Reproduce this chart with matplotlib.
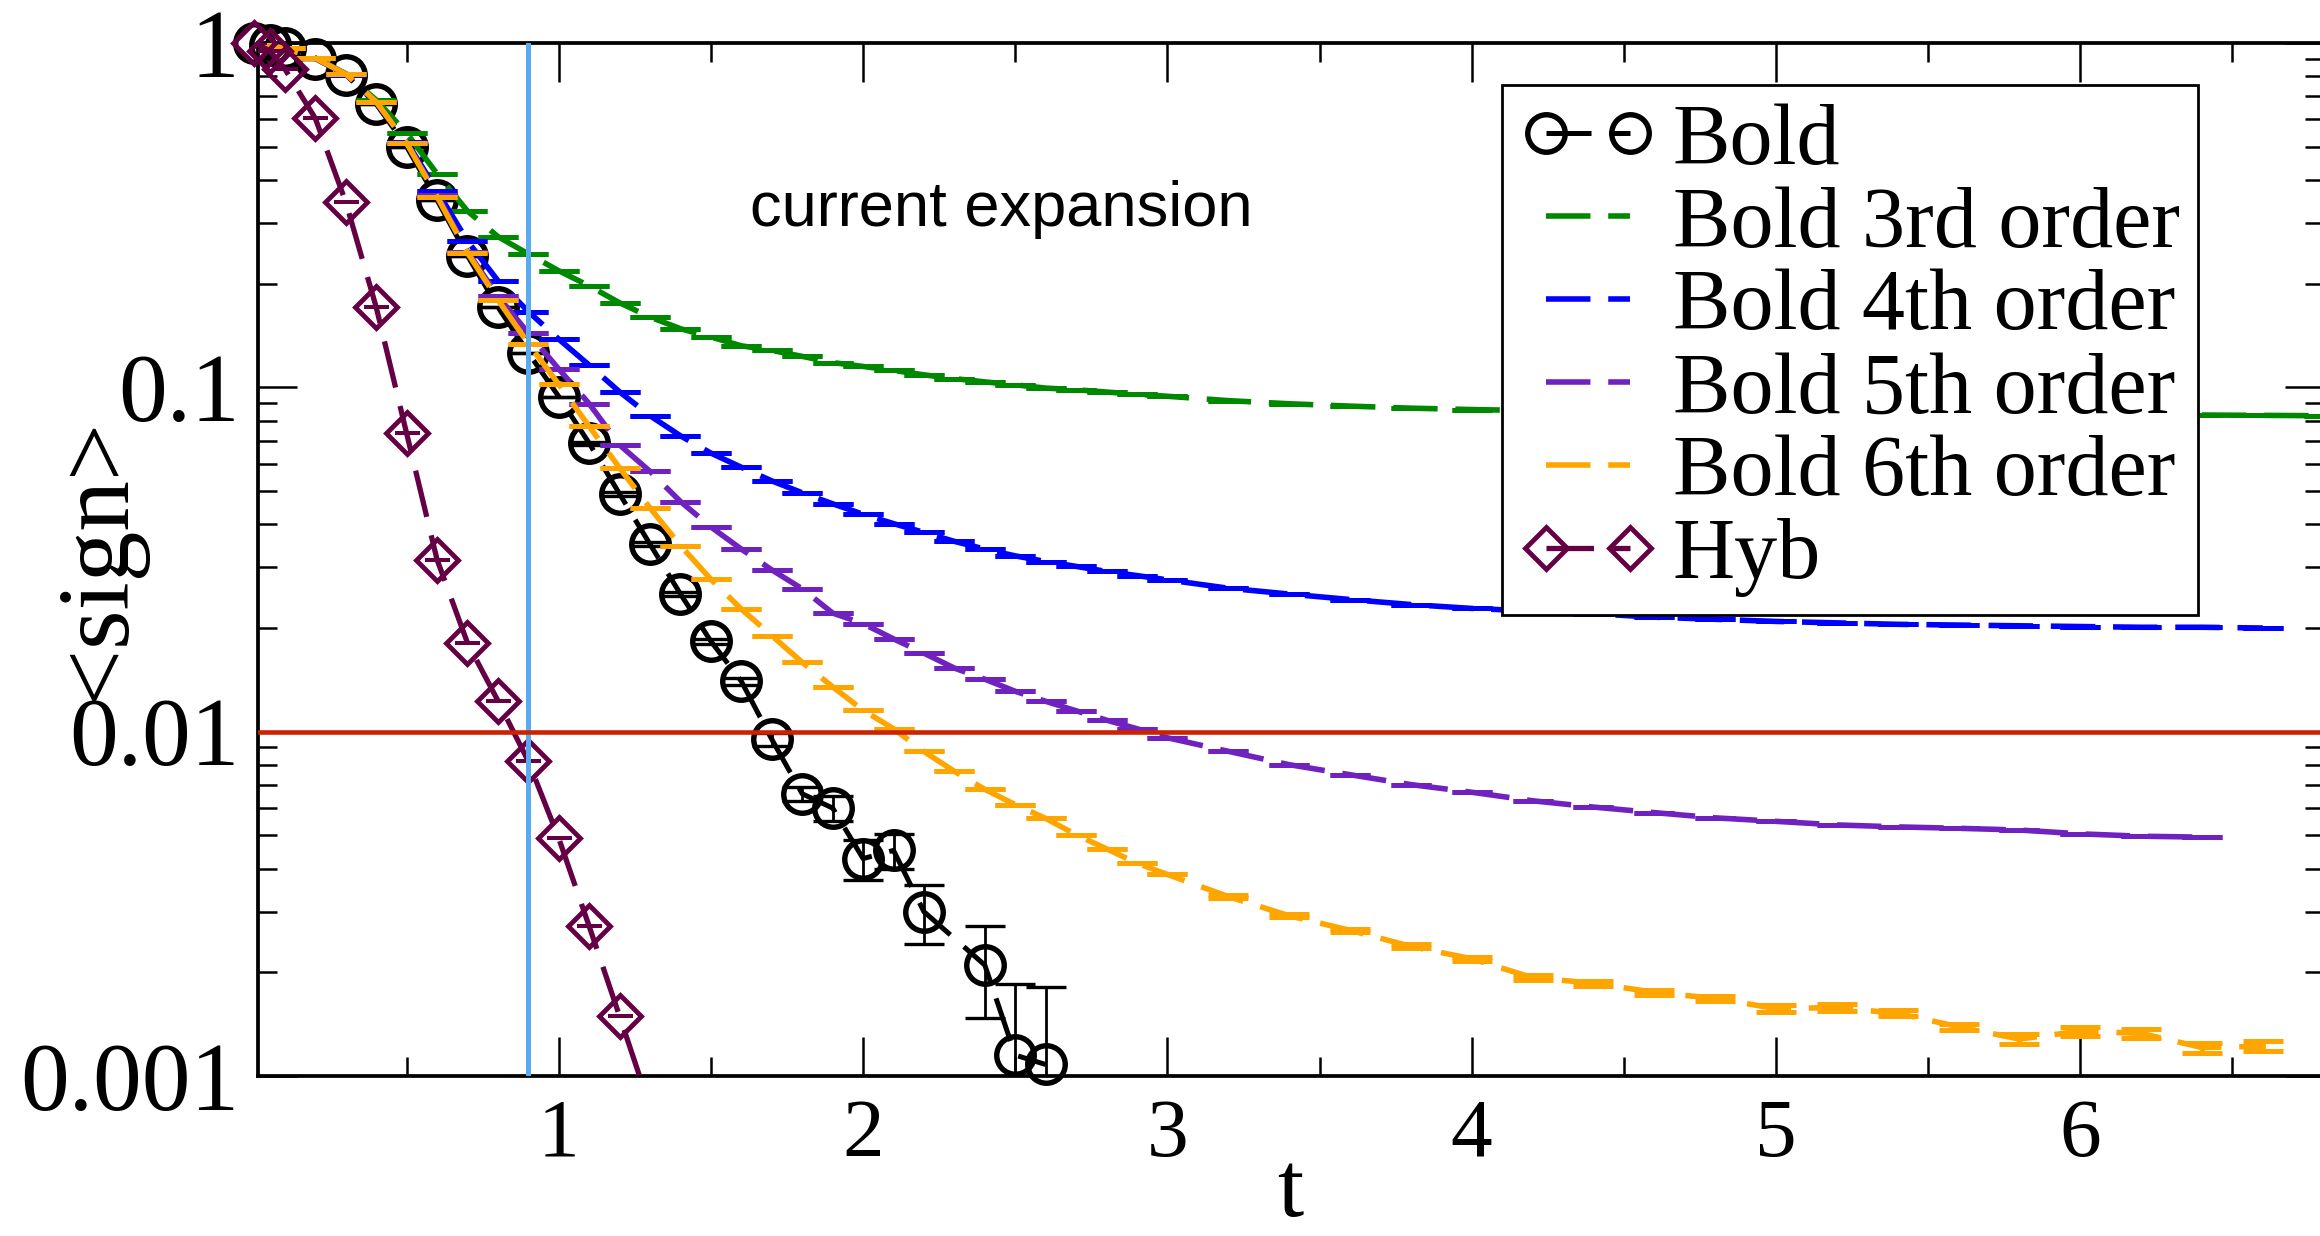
import numpy as np
import matplotlib
matplotlib.use('Agg')
import matplotlib.pyplot as plt
from matplotlib.lines import Line2D
from matplotlib.ticker import FixedLocator, NullFormatter, LogLocator

# ---- values ----
# time grids used by the bold-order runs
t_fine = [0.0, 0.1, 0.2, 0.3, 0.4, 0.5, 0.6, 0.7, 0.8, 0.9, 1.0,
          1.1, 1.2, 1.3, 1.4, 1.5, 1.6, 1.7, 1.8, 1.9, 2.0,
          2.1, 2.2, 2.3, 2.4, 2.5, 2.6, 2.7, 2.8, 2.9, 3.0]
t_coarse = [3.2, 3.4, 3.6, 3.8, 4.0, 4.2, 4.4, 4.6, 4.8, 5.0,
            5.2, 5.4, 5.6, 5.8, 6.0, 6.2, 6.4, 6.6, 6.8]

# Bold (full), circles with error bars
bold_t = [0.0, 0.05, 0.1, 0.2, 0.3, 0.4, 0.5, 0.6, 0.7, 0.8, 0.9, 1.0, 1.1, 1.2,
          1.3, 1.4, 1.5, 1.6, 1.7, 1.8, 1.9, 2.0, 2.1, 2.2, 2.4, 2.5, 2.6]
bold_sign = [1.0, 0.99, 0.965, 0.90, 0.81, 0.665, 0.50, 0.35, 0.241, 0.171, 0.126,
             0.094, 0.0688, 0.049, 0.035, 0.0251, 0.0183, 0.0140, 0.0095, 0.0066,
             0.0060, 0.00428, 0.00452, 0.0030, 0.0021, 0.00115, 0.00108]
bold_err = [0.0, 0.0, 0.0, 0.0, 0.0, 0.0, 0.0, 0.0, 0.0, 0.0, 0.0, 0.0, 0.0006,
            0.0006, 0.0005, 0.0004, 0.0003, 0.0003, 0.0004, 0.0003, 0.0005, 0.00056,
            0.00054, 0.00058, 0.00063, 0.0007, 0.00073]

# Bold 3rd order
green_t = t_fine + t_coarse
green_sign = [1.0, 0.965, 0.905, 0.815, 0.683, 0.548, 0.417, 0.325, 0.274, 0.244, 0.218,
              0.197, 0.176, 0.160, 0.148, 0.140, 0.132, 0.128, 0.123, 0.118, 0.115,
              0.112, 0.1087, 0.106, 0.1037, 0.1017, 0.0995, 0.0984, 0.0969, 0.0955, 0.0942,
              0.0915, 0.0896, 0.0882, 0.0870, 0.0862, 0.0856, 0.0851, 0.0847, 0.0844, 0.0841,
              0.0839, 0.0837, 0.0836, 0.0834, 0.0833, 0.0832, 0.0831, 0.0829, 0.0827]

# Bold 4th order
blue_t = t_fine + t_coarse[:-1]
blue_sign = [1.0, 0.965, 0.903, 0.81, 0.672, 0.517, 0.372, 0.266, 0.204, 0.166, 0.138,
             0.116, 0.097, 0.0827, 0.0723, 0.0644, 0.0586, 0.0535, 0.0494, 0.0459, 0.0428,
             0.0402, 0.0379, 0.0357, 0.0339, 0.0324, 0.0312, 0.0302, 0.0292, 0.0284, 0.0276,
             0.0261, 0.0251, 0.0242, 0.0234, 0.0228, 0.0224, 0.0220, 0.0215, 0.0212, 0.0209,
             0.0207, 0.0205, 0.0204, 0.0203, 0.0202, 0.0201, 0.0201, 0.0200]

# Bold 5th order
purple_t = t_fine + t_coarse[:-2]
purple_sign = [1.0, 0.965, 0.903, 0.812, 0.673, 0.514, 0.362, 0.248, 0.184, 0.1437, 0.113,
               0.0896, 0.068, 0.057, 0.0466, 0.0393, 0.0339, 0.0295, 0.026, 0.0221, 0.0206,
               0.0186, 0.0169, 0.0153, 0.0142, 0.0131, 0.01225, 0.0115, 0.0108, 0.0102, 0.0096,
               0.00877, 0.00802, 0.0075, 0.00702, 0.00667, 0.0063, 0.00604, 0.00582, 0.00562,
               0.00549, 0.00536, 0.00529, 0.00524, 0.00518, 0.00505, 0.00497, 0.00494]

# Bold 6th order
orange_t = t_fine + t_coarse[:-1]
orange_sign = [1.0, 0.965, 0.903, 0.813, 0.675, 0.512, 0.358, 0.246, 0.1795, 0.134, 0.102,
               0.077, 0.0583, 0.0446, 0.0347, 0.0277, 0.0227, 0.019, 0.0159, 0.0135, 0.01154,
               0.0102, 0.00876, 0.00767, 0.0068, 0.00614, 0.0056, 0.00502, 0.00457, 0.00415, 0.00385,
               0.00332, 0.00292, 0.00265, 0.00238, 0.00219, 0.00193, 0.00186, 0.00175, 0.00168,
               0.00157, 0.00158, 0.00152, 0.00139, 0.00128, 0.00135, 0.00133, 0.00121, 0.00122]
orange_err = [0.0] * 31 + [0.00003, 0.00003, 0.00003, 0.00003, 0.00003, 0.00003, 0.00003,
                           0.00003, 0.00003, 0.00004, 0.00004, 0.00003, 0.00003, 0.00004,
                           0.00004, 0.00004, 0.00004, 0.00004]

# Hyb (hybridization expansion), diamonds
hyb_t = [0.0, 0.05, 0.1, 0.2, 0.3, 0.4, 0.5, 0.6, 0.7, 0.8, 0.9, 1.0, 1.1, 1.2, 1.3]
hyb_sign = [1.0, 0.95, 0.84, 0.604, 0.345, 0.171, 0.0735, 0.0316, 0.0181, 0.0123,
            0.0082, 0.0049, 0.00272, 0.00149, 0.00081]

t_cut = 0.9       # vertical marker
sign_cut = 0.01   # horizontal marker

labels = ['Bold', 'Bold 3rd order', 'Bold 4th order', 'Bold 5th order', 'Bold 6th order', 'Hyb']

# colours
c_green = '#008800'
c_blue = '#0000ff'
c_purple = '#7022c0'
c_orange = '#ffa500'
c_hyb = '#650045'

plt.rcParams['font.family'] = ['Liberation Serif', 'DejaVu Serif']

fig = plt.figure(figsize=(23.2, 12.36), dpi=100)
ax = fig.add_axes([0.111, 0.12945, 0.8906, 0.83576])
ax.set_yscale('log')
ax.set_xlim(0.01, 6.8)
ax.set_ylim(1e-3, 1)

dash = (0, (8.0, 3.2))
dash_bold = (0, (9, 3.6))

# Bold : dashed line (clipped) + open circles (not clipped, like xmgrace)
ax.plot(bold_t, bold_sign, color='k', lw=3.6, ls=dash_bold, zorder=2)
ax.errorbar(bold_t, bold_sign, yerr=bold_err, fmt='none', ecolor='k',
            elinewidth=2, capsize=14.5, capthick=2.4, zorder=2)
ax.plot(bold_t, bold_sign, ls='none', marker='o', ms=27, mfc='none', mec='k',
        mew=3.9, clip_on=False, zorder=2)

# bold order runs
orders = [(green_t, green_sign, 0.0, c_green),
          (blue_t, blue_sign, 0.0, c_blue),
          (purple_t, purple_sign, 0.0, c_purple),
          (orange_t, orange_sign, orange_err, c_orange)]
for k, (tt, ss, ee, col) in enumerate(orders):
    ax.plot(tt, ss, color=col, lw=4, ls=dash, zorder=3 + k)
    ax.errorbar(tt, ss, yerr=ee, fmt='none', ecolor=col, elinewidth=3.4,
                capsize=14.5, capthick=3.6, zorder=3 + k)

# Hyb
hyb_t = np.array(hyb_t)
hyb_sign = np.array(hyb_sign)
ax.plot(hyb_t, hyb_sign, color=c_hyb, lw=3.8, ls=dash_bold, zorder=8)
vis = hyb_sign >= 1e-3
ax.errorbar(hyb_t[vis], hyb_sign[vis], yerr=0.0, fmt='none', ecolor=c_hyb,
            elinewidth=2, capsize=9, capthick=2.8, zorder=8)
ax.plot(hyb_t[vis], hyb_sign[vis], ls='none', marker='D', ms=21, mfc='none',
        mec=c_hyb, mew=3.5, clip_on=False, zorder=8)

# reference lines
ax.axvline(t_cut, color='#5aaaf0', lw=3.6, zorder=10)
ax.axhline(sign_cut, color='#cc2200', lw=3.3, zorder=10)

ax.text(0.2383, 0.8228, 'current expansion', transform=ax.transAxes,
        fontsize=45.5, family='Liberation Sans', ha='left', va='baseline')

# ticks
ax.xaxis.set_major_locator(FixedLocator([1, 2, 3, 4, 5, 6]))
ax.xaxis.set_minor_locator(FixedLocator([0.5, 1.5, 2.5, 3.5, 4.5, 5.5, 6.5]))
ax.set_yticks([1e-3, 1e-2, 1e-1, 1])
ax.set_yticklabels(['0.001', '0.01', '0.1', '1'])
ax.yaxis.set_minor_locator(LogLocator(base=10, subs=np.arange(2, 10)))
ax.yaxis.set_minor_formatter(NullFormatter())
ax.tick_params(which='both', direction='in', top=True, right=True, width=1.8)
ax.tick_params(which='major', length=28)
ax.tick_params(which='minor', length=14)
ax.tick_params(axis='x', labelsize=60, pad=16)
ax.tick_params(axis='y', labelsize=70, pad=13)
for sp in ax.spines.values():
    sp.set_linewidth(2.7)

# x label sits right at the bottom edge, kept just inside the figure
ax.set_xlabel('t', fontsize=68)
ax.xaxis.set_label_coords(0.5, -0.073)
ax.set_ylabel('<sign>', fontsize=73)
ax.yaxis.set_label_coords(-0.054, 0.5)

# legend with plain line handles
handles = [Line2D([], [], color='k', lw=3.6, ls=dash_bold, marker='o', ms=27,
                  mfc='none', mew=3.9),
           Line2D([], [], color=c_green, lw=4, ls=dash),
           Line2D([], [], color=c_blue, lw=4, ls=dash),
           Line2D([], [], color=c_purple, lw=4, ls=dash),
           Line2D([], [], color=c_orange, lw=4, ls=dash),
           Line2D([], [], color=c_hyb, lw=3.8, ls=dash_bold, marker='D', ms=21,
                  mfc='none', mew=3.5)]
leg = ax.legend(handles, labels, loc='upper right',
                bbox_to_anchor=(2198 / 2320, 1 - 85 / 1236),
                bbox_transform=fig.transFigure, borderaxespad=0,
                fontsize=62, numpoints=2, handlelength=1.57, handletextpad=0.2,
                borderpad=0.21, labelspacing=0.04, fancybox=False,
                edgecolor='black', framealpha=1)
leg.get_frame().set_linewidth(2)
leg.set_zorder(20)

fig.savefig('out.png', dpi=100)
